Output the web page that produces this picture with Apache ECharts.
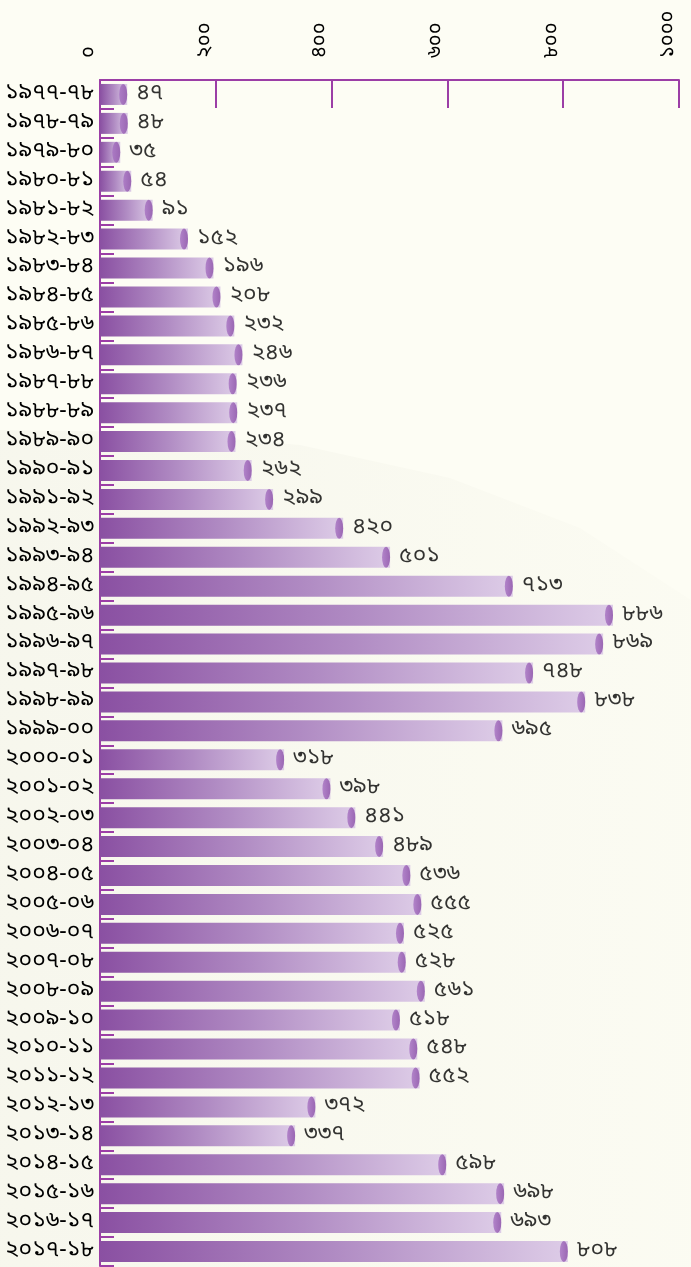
<!DOCTYPE html>
<html>
<head>
<meta charset="utf-8">
<style>
  html, body { margin: 0; padding: 0; background: #fdfdf4; }
  #chart { width: 691px; height: 1267px; }
</style>
<script src="https://cdn.jsdelivr.net/npm/echarts@6/dist/echarts.min.js"></script>
</head>
<body>
<div id="chart"></div>
<script>
// Fiscal years (Bengali numerals)
const categories = [
  '১৯৭৭-৭৮', '১৯৭৮-৭৯', '১৯৭৯-৮০', '১৯৮০-৮১', '১৯৮১-৮২', '১৯৮২-৮৩',
  '১৯৮৩-৮৪', '১৯৮৪-৮৫', '১৯৮৫-৮৬', '১৯৮৬-৮৭', '১৯৮৭-৮৮', '১৯৮৮-৮৯',
  '১৯৮৯-৯০', '১৯৯০-৯১', '১৯৯১-৯২', '১৯৯২-৯৩', '১৯৯৩-৯৪', '১৯৯৪-৯৫',
  '১৯৯৫-৯৬', '১৯৯৬-৯৭', '১৯৯৭-৯৮', '১৯৯৮-৯৯', '১৯৯৯-০০', '২০০০-০১',
  '২০০১-০২', '২০০২-০৩', '২০০৩-০৪', '২০০৪-০৫', '২০০৫-০৬', '২০০৬-০৭',
  '২০০৭-০৮', '২০০৮-০৯', '২০০৯-১০', '২০১০-১১', '২০১১-১২', '২০১২-১৩',
  '২০১৩-১৪', '২০১৪-১৫', '২০১৫-১৬', '২০১৬-১৭', '২০১৭-১৮'
];

const values = [
  47, 48, 35, 54, 91, 152,
  196, 208, 232, 246, 236, 237,
  234, 262, 299, 420, 501, 713,
  886, 869, 748, 838, 695, 318,
  398, 441, 489, 536, 555, 525,
  528, 561, 518, 548, 552, 372,
  337, 598, 698, 693, 808
];

const axisMin = 0;
const axisMax = 1000;
const axisStep = 200;

const bnDigits = ['০', '১', '২', '৩', '৪', '৫', '৬', '৭', '৮', '৯'];
function toBengali(n) {
  return String(n).replace(/[0-9]/g, d => bnDigits[+d]);
}

const FONT = '"Noto Sans Bengali", "Lohit Bengali", "Noto Serif Bengali", "FreeSans", sans-serif';
const AXIS_PURPLE = '#9c3ea6';

const chart = echarts.init(document.getElementById('chart'), null, { renderer: 'canvas' });

function hGradient(stops) {
  return { type: 'linear', x: 0, y: 0, x2: 1, y2: 0, colorStops: stops };
}

const barGradient = hGradient([
  { offset: 0, color: '#8a50a2' },
  { offset: 0.5, color: '#b08bc3' },
  { offset: 1, color: '#ddcce7' }
]);
const capGradient = hGradient([
  { offset: 0, color: '#a772c2' },
  { offset: 1, color: '#8a4ea6' }
]);

chart.setOption({
  backgroundColor: '#fdfdf4',
  animation: false,
  // soft shading across the lower part of the canvas
  graphic: [
    {
      type: 'polygon',
      z: -10,
      silent: true,
      shape: {
        points: [
          [0, 430], [150, 432], [300, 445], [450, 478], [580, 528], [691, 600],
          [691, 1267], [0, 1267]
        ]
      },
      style: {
        fill: hGradient([
          { offset: 0, color: 'rgba(110,110,80,0.045)' },
          { offset: 1, color: 'rgba(110,110,80,0.012)' }
        ])
      }
    }
  ],
  grid: {
    left: 100, right: 12, top: 80, bottom: 1,
    containLabel: false,
    outerBoundsMode: 'none'
  },
  xAxis: {
    type: 'value',
    position: 'top',
    min: axisMin,
    max: axisMax,
    interval: axisStep,
    axisLine: { show: true, lineStyle: { color: AXIS_PURPLE, width: 2 } },
    axisTick: { show: true, inside: true, length: 28, lineStyle: { color: AXIS_PURPLE, width: 2 } },
    splitLine: { show: false },
    axisLabel: {
      rotate: -90,
      margin: 22,
      color: '#000',
      fontSize: 20,
      fontFamily: FONT,
      verticalAlign: 'bottom',
      formatter: v => toBengali(v)
    }
  },
  yAxis: {
    type: 'category',
    inverse: true,
    data: categories,
    axisLine: { show: true, lineStyle: { color: AXIS_PURPLE, width: 2 } },
    axisTick: { show: true, inside: true, length: 14, lineStyle: { color: AXIS_PURPLE, width: 2 } },
    axisLabel: {
      interval: 0,
      hideOverlap: false,
      margin: 6,
      color: '#000',
      fontSize: 23,
      fontFamily: FONT
    }
  },
  series: [
    {
      type: 'bar',
      data: values,
      barWidth: 21,
      itemStyle: { color: barGradient },
      z: 2
    },
    {
      // cylinder end cap with the value label
      type: 'scatter',
      data: values,
      symbol: 'circle',
      symbolSize: [8, 21],
      symbolOffset: [-4, 0],
      itemStyle: { color: capGradient },
      label: {
        show: true,
        position: 'right',
        distance: 9,
        color: '#000',
        fontSize: 23,
        fontFamily: FONT,
        formatter: p => toBengali(p.value)
      },
      z: 3
    }
  ]
});
</script>
</body>
</html>
